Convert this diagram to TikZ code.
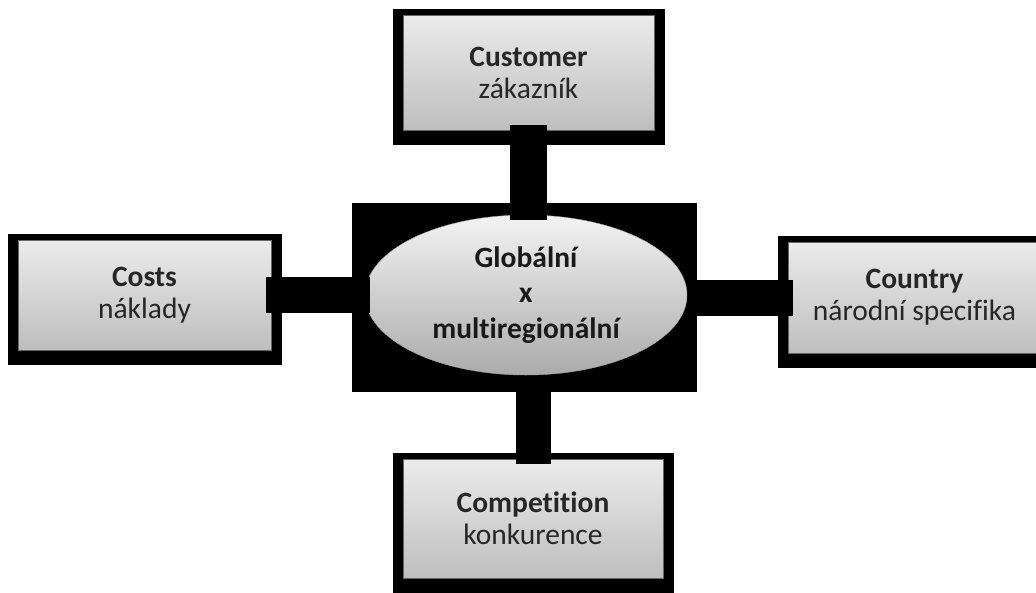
\documentclass[tikz,border=0pt]{standalone}
\usepackage{fontspec}
\setmainfont[Ligatures={NoCommon}]{Carlito}
\usetikzlibrary{shapes.geometric, backgrounds}
\definecolor{boxtop}{HTML}{EBEBEB}
\definecolor{boxbot}{HTML}{BEBEBE}
\tikzset{
  factor/.style={rectangle, draw=black!60, line width=1pt, top color=boxtop, bottom color=boxbot,
    inner sep=0pt, outer sep=0pt, align=center, text=black!85, font=\fontsize{29.5}{32}\selectfont},
  link/.style={line width=36pt, draw=black, shorten <=-5pt, shorten >=-5pt}
}
\begin{document}
\begin{tikzpicture}[x=1pt, y=-1pt]
  \path[use as bounding box, clip] (0,0) rectangle (1036,592);
  \node[fill=black, minimum width=345pt, minimum height=189pt, inner sep=0pt] (hub) at (524.5,297.5) {};
  \node[ellipse, draw=black!35, top color=boxtop!60!white, bottom color=boxbot!90!black,
    minimum width=322pt, minimum height=160pt, inner sep=0pt, align=center, text=black!90,
    font=\bfseries\fontsize{29.5}{35.5}\selectfont] (core) at (526,295) {Globální\\x\\multiregionální};
  \node[factor, minimum width=251pt, minimum height=115pt] (cust) at (528.5,72.5) {\textbf{Customer}\\zákazník};
  \node[factor, minimum width=253pt, minimum height=110pt] (costs) at (144.5,295) {\textbf{Costs}\\náklady};
  \node[factor, minimum width=253pt, minimum height=111pt] (country) at (914.5,297.5) {\textbf{Country}\\národní specifika};
  \node[factor, minimum width=260pt, minimum height=119pt] (comp) at (533,518.5) {\textbf{Competition}\\konkurence};
  \begin{pgfonlayer}{background}
    \foreach \n in {cust, costs, country, comp}
      \fill ([xshift=-10.5pt, yshift=-14.5pt]\n.south west) rectangle ([xshift=10.5pt, yshift=6.5pt]\n.north east);
  \end{pgfonlayer}
  % connectors
  \draw[link] (costs.east) -- (core.west);
  \draw[link] (hub.east |- country.west) -- (country.west);
  \draw[link, line width=37pt] (cust.south) -- (cust.south |- core.north);
  \draw[link, line width=35pt] (comp.north |- hub.south) -- (comp.north);
\end{tikzpicture}
\end{document}
